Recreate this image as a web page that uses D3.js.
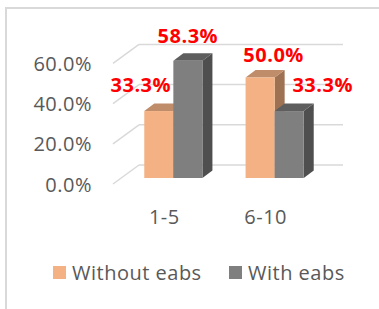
<!DOCTYPE html>
<html>
<head>
<meta charset="utf-8">
<script src="https://cdn.jsdelivr.net/npm/d3@7"></script>
<style>
  html, body { margin: 0; padding: 0; background: #fff; }
  svg { display: block; font-family: "Open Sans", "Noto Sans", sans-serif; }
  .lbl { font-size: 20px; letter-spacing: 0.5px; }
</style>
</head>
<body>
<div id="chart"></div>
<script>
// groups on the x axis, one value per series
const categories = ['1-5', '6-10'];
const seriesNames = ['Without eabs', 'With eabs'];
const withoutEabs = [0.333, 0.500];
const withEabs = [0.583, 0.333];
const tickValues = [0, 0.2, 0.4, 0.6];

const colors = {
    'Without eabs': { front: '#f4b183', top: '#c08d6a', side: '#9d7152' },
    'With eabs': { front: '#7f7f7f', top: '#5e5e5e', side: '#4f4f4f' }
};

const W = 379, H = 309;
const depthX = 10, depthY = 7.5;   // 3d offset of the bars
const backShift = 13;              // back wall sits above the bar floor
const frontShift = 6;              // axis labels sit below it

const svg = d3.select('#chart').append('svg')
    .attr('width', W)
    .attr('height', H);

// chart border (only top and left show in the crop)
svg.append('path')
    .attr('d', `M6,${H} L6,8 L${W},8`)
    .attr('fill', 'none')
    .attr('stroke', '#d9d9d9')
    .attr('stroke-width', 2);

const x0 = d3.scaleBand()
    .domain(categories)
    .range([123, 325])
    .paddingInner(0.426)
    .paddingOuter(0.21);

const x1 = d3.scaleBand()
    .domain(seriesNames)
    .range([0, x0.bandwidth()]);

const y = d3.scaleLinear()
    .domain([0, 1])
    .range([178, 178 - 201]);

// back wall gridlines + floor diagonals
const grid = svg.append('g');
tickValues.forEach(v => {
    const yb = y(v) - backShift;
    grid.append('line')
        .attr('x1', 139).attr('x2', 343)
        .attr('y1', yb).attr('y2', yb)
        .attr('stroke', '#d9d9d9').attr('stroke-width', 1.5);
    grid.append('line')
        .attr('x1', 139).attr('x2', 113)
        .attr('y1', yb).attr('y2', y(v) + frontShift)
        .attr('stroke', '#d9d9d9').attr('stroke-width', 1.5);
});

// y tick labels
svg.append('g').selectAll('text')
    .data(tickValues)
    .join('text')
    .attr('class', 'lbl')
    .attr('x', 92)
    .attr('y', d => y(d) + frontShift)
    .attr('text-anchor', 'end')
    .attr('dominant-baseline', 'central')
    .attr('fill', '#595959')
    .text(d => d3.format('.1%')(d));

// bar data
const bars = [];
categories.forEach((c, i) => {
    bars.push({ cat: c, series: 'Without eabs', value: withoutEabs[i] });
    bars.push({ cat: c, series: 'With eabs', value: withEabs[i] });
});

const bw = x1.bandwidth();
const barG = svg.append('g').selectAll('g')
    .data(bars)
    .join('g');

barG.each(function(d) {
    const g = d3.select(this);
    const xl = x0(d.cat) + x1(d.series);
    const xr = xl + bw;
    const yt = y(d.value);
    const yb = y(0);
    const c = colors[d.series];
    // side face
    g.append('path')
        .attr('d', `M${xr},${yt} L${xr + depthX},${yt - depthY} L${xr + depthX},${yb - depthY} L${xr},${yb} Z`)
        .attr('fill', c.side);
    // top face
    g.append('path')
        .attr('d', `M${xl},${yt} L${xl + depthX},${yt - depthY} L${xr + depthX},${yt - depthY} L${xr},${yt} Z`)
        .attr('fill', c.top);
    // front face
    g.append('rect')
        .attr('x', xl)
        .attr('y', yt)
        .attr('width', bw)
        .attr('height', yb - yt)
        .attr('fill', c.front);
});

// data labels, nudged like the excel layout
const labelNudge = {
    '1-5|Without eabs': [-18, -27],
    '1-5|With eabs': [0, -25],
    '6-10|Without eabs': [13.5, -23],
    '6-10|With eabs': [33.5, -27]
};
svg.append('g').selectAll('text')
    .data(bars)
    .join('text')
    .attr('x', d => x0(d.cat) + x1(d.series) + bw / 2 + labelNudge[d.cat + '|' + d.series][0])
    .attr('y', d => y(d.value) + labelNudge[d.cat + '|' + d.series][1])
    .attr('text-anchor', 'middle')
    .attr('dominant-baseline', 'central')
    .attr('fill', '#ff0000')
    .style('font-size', '20px')
    .style('letter-spacing', '0.5px')
    .style('font-weight', 'bold')
    .text(d => d3.format('.1%')(d.value));

// category labels
svg.append('g').selectAll('text')
    .data(categories)
    .join('text')
    .attr('class', 'lbl')
    .attr('x', d => x0(d) + x0.bandwidth() / 2 - 9)
    .attr('y', 216)
    .attr('text-anchor', 'middle')
    .attr('dominant-baseline', 'central')
    .attr('fill', '#595959')
    .text(d => d);

// legend
const legendX = [53, 229];
const legend = svg.append('g').selectAll('g')
    .data(seriesNames)
    .join('g')
    .attr('transform', (d, i) => `translate(${legendX[i]},266)`);
legend.append('rect')
    .attr('width', 13).attr('height', 13)
    .attr('fill', d => colors[d].front);
legend.append('text')
    .attr('class', 'lbl')
    .attr('x', 19)
    .attr('y', 6.5)
    .attr('dominant-baseline', 'central')
    .attr('fill', '#595959')
    .text(d => d);
</script>
</body>
</html>
